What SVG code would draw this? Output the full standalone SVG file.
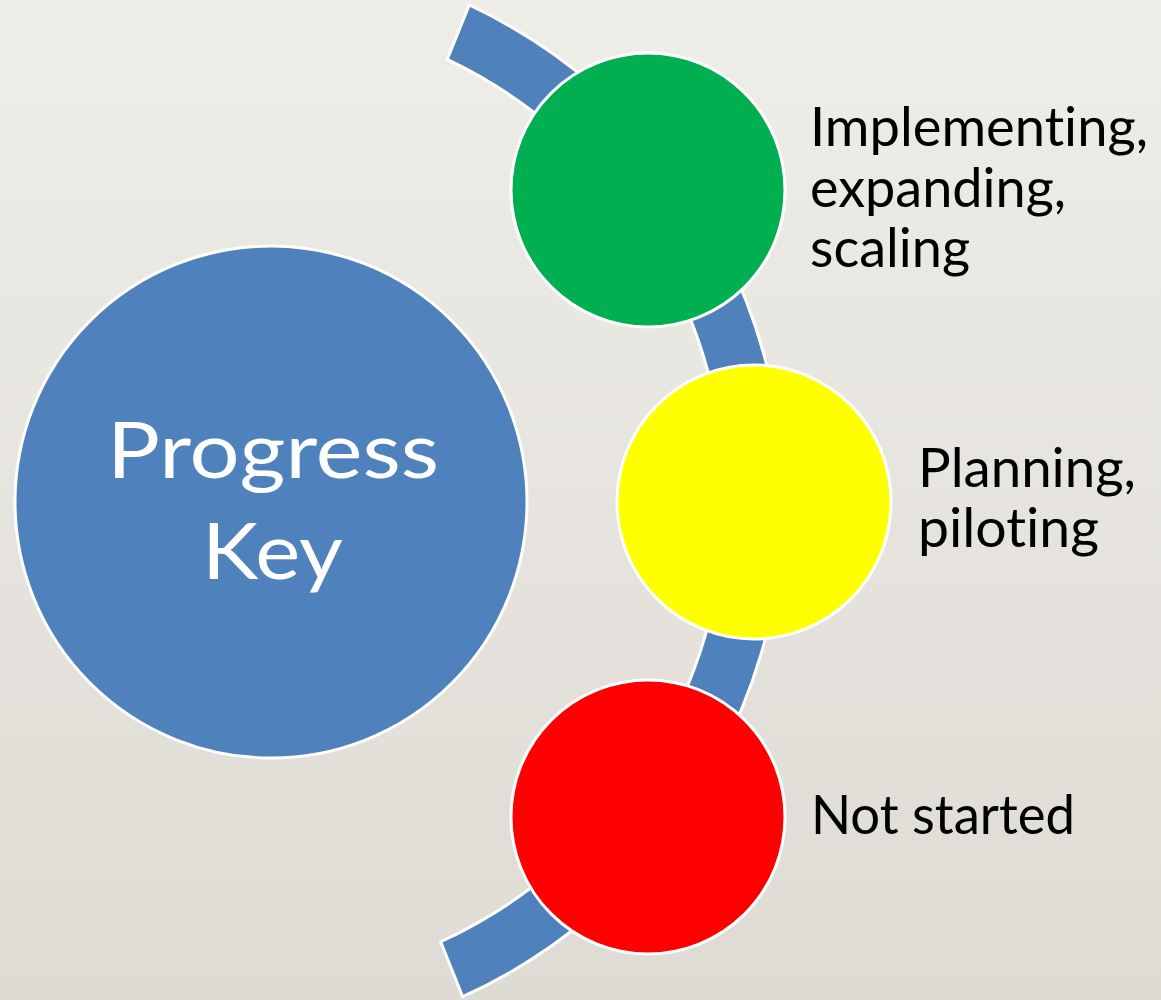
<svg xmlns="http://www.w3.org/2000/svg" width="1161" height="1000" viewBox="0 0 1161 1000">
  <defs>
    <linearGradient id="bg" x1="0" y1="0" x2="0" y2="1">
      <stop offset="0" stop-color="#EFEDE7"/>
      <stop offset="1" stop-color="#DDDBD4"/>
    </linearGradient>
    <style>
      .band { fill: #4F81BD; stroke: #FFFFFF; stroke-width: 3; stroke-linejoin: miter; }
      .disc { stroke: #FFFFFF; stroke-width: 3; }
      .label { font-family: Lato, "Liberation Sans", sans-serif; font-size: 55px; fill: #000000; font-variant-ligatures: none; }
      .title { font-family: Lato, "Liberation Sans", sans-serif; font-size: 78px; fill: #FFFFFF; text-anchor: middle; font-variant-ligatures: none; }
    </style>
  </defs>

  <rect x="0" y="0" width="1161" height="1000" fill="url(#bg)"/>

  <!-- curved band linking the three status circles -->
  <g id="connectors">
    <path class="band" d="M 469.3 5 A 546 546 0 0 1 462.7 996.7 L 440.7 941.7 A 487 487 0 0 0 447.3 59.3 Z"/>
  </g>

  <g id="progress-key">
    <circle class="disc" cx="271" cy="502" r="256" fill="#4F81BD"/>
    <text class="title" x="273" y="478" textLength="332" lengthAdjust="spacingAndGlyphs">Progress</text>
    <text class="title" x="272.5" y="579" textLength="141" lengthAdjust="spacingAndGlyphs">Key</text>
  </g>

  <g id="status-green">
    <circle class="disc" cx="648" cy="190" r="137" fill="#00B050"/>
    <text class="label" x="810" y="146" textLength="338" lengthAdjust="spacingAndGlyphs">Implementing,</text>
    <text class="label" x="810" y="207" textLength="256" lengthAdjust="spacingAndGlyphs">expanding,</text>
    <text class="label" x="810" y="267" textLength="160" lengthAdjust="spacingAndGlyphs">scaling</text>
  </g>

  <g id="status-yellow">
    <circle class="disc" cx="754" cy="502" r="137" fill="#FFFF00"/>
    <text class="label" x="918" y="487" textLength="218" lengthAdjust="spacingAndGlyphs">Planning,</text>
    <text class="label" x="918" y="547" textLength="181" lengthAdjust="spacingAndGlyphs">piloting</text>
  </g>

  <g id="status-red">
    <circle class="disc" cx="648" cy="817" r="137" fill="#FF0000"/>
    <text class="label" x="811" y="834" textLength="264" lengthAdjust="spacingAndGlyphs">Not started</text>
  </g>
</svg>
